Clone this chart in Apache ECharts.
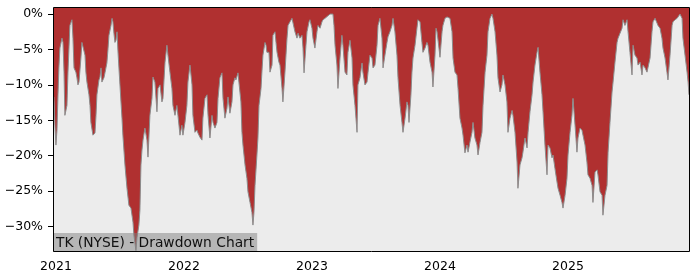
<!DOCTYPE html>
<html><head><meta charset="utf-8">
<script src="https://cdn.jsdelivr.net/npm/echarts@6/dist/echarts.min.js"></script>
<style>html,body{margin:0;padding:0;background:#fff}#c{width:700px;height:280px}</style>
</head><body><div id="c"></div>
<script>
// Dates as decimal years
const years = [
2020.984,2020.992,2021.000,2021.008,2021.016,2021.023,2021.031,2021.047,2021.055,2021.063,
2021.070,2021.086,2021.094,2021.109,2021.125,2021.133,2021.141,2021.156,2021.164,2021.172,
2021.180,2021.195,2021.203,2021.211,2021.227,2021.234,2021.242,2021.258,2021.266,2021.273,
2021.289,2021.305,2021.313,2021.320,2021.336,2021.344,2021.352,2021.359,2021.375,2021.383,
2021.398,2021.406,2021.414,2021.430,2021.438,2021.445,2021.453,2021.461,2021.469,2021.477,
2021.484,2021.492,2021.500,2021.508,2021.516,2021.523,2021.539,2021.555,2021.570,2021.586,
2021.602,2021.609,2021.625,2021.633,2021.648,2021.656,2021.664,2021.672,2021.680,2021.695,
2021.711,2021.719,2021.734,2021.750,2021.758,2021.773,2021.789,2021.797,2021.813,2021.828,
2021.836,2021.852,2021.867,2021.875,2021.891,2021.906,2021.914,2021.930,2021.945,2021.953,
2021.969,2021.984,2021.992,2022.008,2022.023,2022.031,2022.047,2022.063,2022.070,2022.086,
2022.102,2022.109,2022.125,2022.141,2022.148,2022.164,2022.180,2022.188,2022.203,2022.219,
2022.227,2022.242,2022.258,2022.266,2022.281,2022.297,2022.305,2022.320,2022.336,2022.344,
2022.359,2022.375,2022.383,2022.398,2022.406,2022.422,2022.430,2022.445,2022.453,2022.461,
2022.477,2022.492,2022.500,2022.516,2022.531,2022.539,2022.547,2022.555,2022.570,2022.578,
2022.586,2022.602,2022.609,2022.617,2022.633,2022.641,2022.648,2022.664,2022.672,2022.688,
2022.695,2022.711,2022.719,2022.727,2022.742,2022.750,2022.766,2022.773,2022.789,2022.805,
2022.813,2022.828,2022.844,2022.852,2022.867,2022.883,2022.891,2022.906,2022.922,2022.930,
2022.938,2022.953,2022.961,2022.977,2022.984,2023.000,2023.008,2023.023,2023.039,2023.047,
2023.063,2023.078,2023.086,2023.102,2023.117,2023.141,2023.164,2023.172,2023.180,2023.195,
2023.203,2023.219,2023.234,2023.242,2023.258,2023.273,2023.281,2023.297,2023.313,2023.320,
2023.336,2023.352,2023.359,2023.375,2023.391,2023.398,2023.414,2023.430,2023.438,2023.453,
2023.469,2023.477,2023.492,2023.508,2023.516,2023.531,2023.547,2023.555,2023.570,2023.586,
2023.594,2023.609,2023.625,2023.633,2023.648,2023.664,2023.672,2023.688,2023.703,2023.711,
2023.727,2023.742,2023.750,2023.758,2023.773,2023.781,2023.789,2023.805,2023.820,2023.828,
2023.844,2023.859,2023.867,2023.883,2023.898,2023.906,2023.922,2023.938,2023.945,2023.961,
2023.969,2023.977,2023.992,2024.000,2024.016,2024.023,2024.039,2024.055,2024.063,2024.078,
2024.094,2024.102,2024.117,2024.133,2024.141,2024.156,2024.172,2024.180,2024.195,2024.211,
2024.219,2024.234,2024.250,2024.258,2024.273,2024.289,2024.297,2024.313,2024.328,2024.336,
2024.352,2024.367,2024.375,2024.391,2024.406,2024.414,2024.430,2024.445,2024.453,2024.469,
2024.484,2024.492,2024.508,2024.523,2024.531,2024.547,2024.563,2024.570,2024.586,2024.602,
2024.609,2024.625,2024.641,2024.648,2024.664,2024.680,2024.688,2024.703,2024.719,2024.727,
2024.742,2024.758,2024.766,2024.781,2024.797,2024.805,2024.820,2024.836,2024.844,2024.859,
2024.875,2024.883,2024.898,2024.914,2024.922,2024.938,2024.953,2024.961,2024.977,2024.992,
2025.000,2025.016,2025.031,2025.039,2025.055,2025.070,2025.078,2025.094,2025.109,2025.117,
2025.133,2025.148,2025.156,2025.172,2025.188,2025.195,2025.211,2025.227,2025.234,2025.250,
2025.266,2025.273,2025.289,2025.305,2025.313,2025.328,2025.344,2025.352,2025.367,2025.383,
2025.391,2025.406,2025.422,2025.430,2025.445,2025.461,2025.469,2025.484,2025.500,2025.508,
2025.523,2025.539,2025.547,2025.563,2025.578,2025.586,2025.602,2025.617,2025.625,2025.641,
2025.656,2025.664,2025.680,2025.695,2025.703,2025.719,2025.734,2025.742,2025.758,2025.773,
2025.781,2025.797,2025.813,2025.820,2025.836,2025.852,2025.859,2025.875,2025.891,2025.898,
2025.914,2025.930,2025.938,2025.945
];
// Drawdown in percent
const drawdown = [
-11.7,-15.7,-18.5,-16.4,-11.4,-7.6,-4.8,-3.4,-4.0,-8.2,
-14.3,-12.9,-8.2,-1.6,-0.8,-3.4,-7.6,-8.2,-9.0,-10.0,
-9.6,-6.2,-4.0,-4.1,-5.8,-8.2,-9.6,-11.4,-12.9,-15.3,
-17.1,-16.8,-14.3,-11.4,-9.3,-8.9,-7.6,-9.6,-9.0,-8.3,
-6.9,-5.1,-3.0,-1.6,-0.6,-1.1,-2.7,-4.0,-3.7,-2.5,
-5.1,-7.6,-10.0,-12.4,-14.7,-17.1,-21.3,-24.6,-27.0,-27.4,
-29.4,-31.2,-33.4,-31.6,-29.8,-27.7,-21.3,-19.2,-17.8,-16.1,
-17.8,-20.2,-14.3,-11.9,-8.9,-9.6,-13.8,-10.5,-10.0,-12.4,
-11.9,-6.8,-4.4,-5.8,-8.3,-10.5,-12.9,-14.3,-12.9,-14.3,
-17.1,-15.7,-17.1,-15.3,-12.9,-9.6,-7.2,-10.0,-14.3,-16.7,
-16.4,-16.8,-17.4,-17.8,-14.7,-11.9,-11.4,-14.3,-17.5,-14.3,
-15.3,-16.1,-15.3,-11.9,-9.0,-8.3,-11.9,-14.7,-13.3,-11.7,
-14.0,-12.4,-10.0,-9.0,-9.3,-8.3,-8.2,-12.4,-16.7,-18.5,
-21.3,-23.2,-25.1,-26.6,-28.0,-29.8,-28.0,-24.2,-19.9,-17.5,
-12.9,-10.5,-8.2,-5.8,-4.0,-4.4,-5.4,-5.4,-8.2,-7.2,
-3.0,-2.5,-4.0,-5.4,-6.8,-7.2,-10.5,-12.4,-8.2,-3.4,
-1.6,-1.1,-0.6,-0.4,-2.5,-3.4,-2.7,-3.4,-3.0,-4.8,
-8.3,-4.4,-2.5,-1.1,-0.8,-2.0,-3.4,-4.8,-2.5,-1.6,
-2.0,-1.1,-0.8,-0.6,-0.4,0,0,-1.6,-4.4,-7.2,
-10.5,-6.2,-3.0,-4.4,-8.2,-8.6,-5.4,-3.7,-6.2,-10.0,
-12.9,-16.7,-10.0,-9.0,-6.9,-8.2,-10.0,-9.6,-8.2,-5.8,
-6.2,-7.6,-7.2,-4.4,-1.6,-0.6,-3.4,-7.6,-5.8,-4.0,
-3.2,-2.5,-1.6,-0.6,-2.5,-5.8,-9.0,-12.9,-15.3,-16.7,
-14.7,-12.4,-12.9,-15.3,-11.4,-8.2,-6.2,-4.4,-2.0,-0.8,
-1.1,-4.0,-5.4,-4.8,-4.0,-4.4,-6.8,-8.2,-10.3,-5.8,
-2.0,-2.5,-4.8,-6.1,-2.5,-1.6,-0.6,-0.4,-0.4,-0.6,
-2.5,-6.2,-8.2,-8.6,-10.5,-14.7,-16.1,-17.1,-19.6,-18.5,
-19.5,-18.1,-16.7,-15.3,-17.5,-18.5,-19.9,-18.1,-16.7,-12.9,
-8.2,-5.8,-2.5,-0.6,0,-0.6,-2.5,-5.8,-9.0,-11.0,
-10.0,-8.6,-10.0,-12.4,-16.7,-14.7,-13.6,-14.3,-16.7,-20.9,
-24.6,-21.3,-20.3,-19.5,-17.5,-18.9,-16.7,-13.8,-11.4,-9.6,
-7.2,-5.4,-4.7,-8.2,-11.4,-13.8,-18.5,-22.7,-18.5,-18.9,
-20.3,-19.9,-21.8,-23.7,-24.6,-25.6,-26.6,-27.4,-25.6,-23.2,
-19.9,-16.7,-14.3,-11.9,-15.7,-19.5,-17.5,-16.1,-16.4,-17.1,
-18.5,-20.9,-22.7,-23.2,-24.2,-26.6,-22.3,-22.0,-22.7,-25.1,
-25.6,-28.4,-25.6,-24.2,-19.5,-15.3,-11.0,-9.6,-6.8,-4.0,
-3.4,-3.2,-2.0,-0.8,-1.6,-0.8,-2.5,-5.4,-8.6,-4.4,
-5.8,-6.2,-7.2,-6.8,-8.6,-7.2,-7.6,-8.2,-8.2,-6.2,
-2.5,-1.1,-0.6,-0.6,-1.6,-2.0,-3.4,-4.8,-6.2,-8.2,
-9.3,-5.8,-1.6,-1.1,-0.8,-0.6,-0.4,0,-0.6,-3.4,
-5.8,-8.2,-9.6,-11.4
];
const xTickValues = [2021, 2022, 2023, 2024, 2025];
const xTickLabels = ['2021', '2022', '2023', '2024', '2025'];
const yTickValues = [0, -5, -10, -15, -20, -25, -30];
const yTickLabels = ['0%', '\u22125%', '\u221210%', '\u221215%', '\u221220%', '\u221225%', '\u221230%'];
const chartTitle = 'TK (NYSE) - Drawdown Chart';

const FONT = 'DejaVu Sans';
const chart = echarts.init(document.getElementById('c'), null, {renderer: 'canvas'});
chart.setOption({
  animation: false,
  title: {
    text: chartTitle, left: 53, top: 233, padding: [2, 3, 1, 3],
    backgroundColor: 'rgba(128,128,128,0.5)',
    textStyle: {fontFamily: FONT, fontSize: 13.8, fontWeight: 'normal', color: '#111', lineHeight: 16}
  },
  grid: {left: 53, right: 10, top: 7, bottom: 28, show: true, backgroundColor: '#ececec', borderWidth: 0},
  xAxis: {
    type: 'value', min: 2020.977, max: 2025.953,
    splitLine: {show: false}, axisLine: {show: false},
    axisTick: {show: true, customValues: xTickValues, length: 5, lineStyle: {color: '#000', width: 1}},
    axisLabel: {
      customValues: xTickValues,
      formatter: v => { const i = xTickValues.indexOf(v); return i >= 0 ? xTickLabels[i] : ''; },
      fontFamily: FONT, fontSize: 12.5, color: '#000', margin: 8
    }
  },
  yAxis: {
    type: 'value', min: -33.6, max: 1.0,
    splitLine: {show: false}, axisLine: {show: false},
    axisTick: {show: true, customValues: yTickValues, length: 5, lineStyle: {color: '#000', width: 1}},
    axisLabel: {
      customValues: yTickValues,
      formatter: v => { const i = yTickValues.indexOf(v); return i >= 0 ? yTickLabels[i] : ''; },
      fontFamily: FONT, fontSize: 12.5, color: '#000', margin: 10
    }
  },
  graphic: [{
    type: 'rect', z: 100, silent: true,
    shape: {x: 53.5, y: 7.5, width: 636, height: 244},
    style: {fill: null, stroke: '#000', lineWidth: 1}
  }],
  series: [{
    type: 'line',
    data: years.map((y, i) => [y, drawdown[i]]),
    showSymbol: false, symbol: 'none',
    lineStyle: {color: '#8c8c8c', width: 1},
    areaStyle: {color: '#b03030', opacity: 1, origin: 'end'},
    z: 2
  }]
});
</script>
</body></html>
